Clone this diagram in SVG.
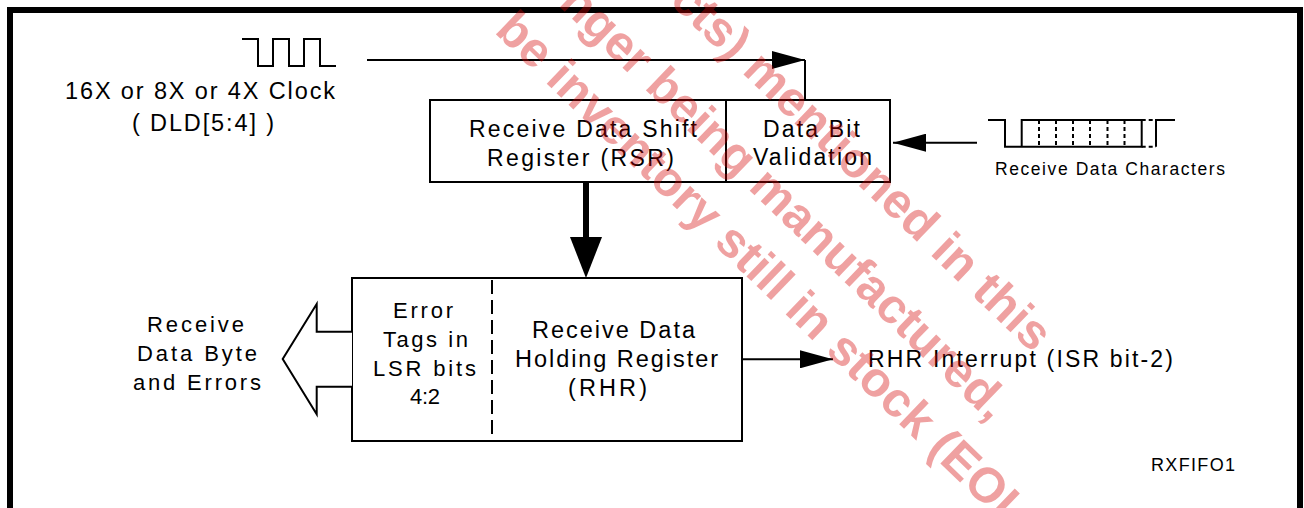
<svg xmlns="http://www.w3.org/2000/svg" width="1304" height="508" viewBox="0 0 1304 508">
  <style>
    .box { fill: #fff; stroke: #000; stroke-width: 2; }
    .ln { fill: none; stroke: #000; stroke-width: 2; }
    .dash { fill: none; stroke: #000; stroke-width: 2; stroke-dasharray: 4 3; }
    .t { font-family: "Liberation Sans", Arial, sans-serif; fill: #000; }
    .wm { font-family: "Liberation Sans", Arial, sans-serif; font-weight: bold; font-size: 49px; fill: #d40000; fill-opacity: 0.37; }
  </style>
  <defs>
    <marker id="arr" markerUnits="userSpaceOnUse" viewBox="0 0 33 18" refX="33" refY="9" markerWidth="33" markerHeight="18" orient="auto">
      <path d="M0,0 L33,9 L0,18 Z" fill="#000"/>
    </marker>
  </defs>
  <rect x="0" y="0" width="1304" height="508" fill="#fff"/>
  <rect x="10" y="10" width="1290" height="530" fill="none" stroke="#000" stroke-width="6"/>

  <g id="node-clock">
    <path class="ln" d="M242,39 H258 V66 H273 V39 H289 V66 H304 V39 H320 V66 H336"/>
    <text class="t" x="65" y="99" font-size="23.5" textLength="270" lengthAdjust="spacing">16X or 8X or 4X Clock</text>
    <text class="t" x="132" y="131" font-size="23.5" textLength="142" lengthAdjust="spacing">( DLD[5:4] )</text>
  </g>

  <g id="node-rsr">
    <rect class="box" x="430" y="100" width="296" height="82"/>
    <text class="t" x="469" y="137" font-size="23" textLength="228" lengthAdjust="spacing">Receive Data Shift</text>
    <text class="t" x="487" y="166" font-size="23" textLength="187" lengthAdjust="spacing">Register (RSR)</text>
  </g>

  <g id="node-databit">
    <rect class="box" x="726" y="100" width="164" height="82"/>
    <text class="t" x="763" y="137" font-size="23" textLength="97" lengthAdjust="spacing">Data Bit</text>
    <text class="t" x="753" y="165" font-size="23" textLength="119" lengthAdjust="spacing">Validation</text>
  </g>

  <g id="node-rxchars">
    <path class="ln" d="M988,120 H1005 V146.7 H1141.7 V120 H1021.7 V146.7"/>
    <path class="dash" d="M1039,120 V146.7 M1056,120 V146.7 M1073,120 V146.7 M1090,120 V146.7 M1107.5,120 V146.7 M1124.5,120 V146.7"/>
    <path class="dash" d="M1141.7,120 H1156 M1141.7,146.7 H1156"/>
    <path class="ln" d="M1156,146.7 V120 H1175"/>
    <text class="t" x="995" y="175" font-size="17.5" textLength="230" lengthAdjust="spacing">Receive Data Characters</text>
  </g>

  <g id="node-rhr">
    <rect class="box" x="352" y="278" width="390" height="163"/>
    <line x1="492" y1="280" x2="492" y2="440" stroke="#000" stroke-width="2" stroke-dasharray="14 6"/>
    <text class="t" x="532" y="338" font-size="23.5" textLength="163" lengthAdjust="spacing">Receive Data</text>
    <text class="t" x="515" y="367" font-size="23.5" textLength="203" lengthAdjust="spacing">Holding Register</text>
    <text class="t" x="568" y="396" font-size="23.5" textLength="79" lengthAdjust="spacing">(RHR)</text>
  </g>

  <g id="node-errortags">
    <text class="t" x="393" y="318" font-size="22" textLength="60" lengthAdjust="spacing">Error</text>
    <text class="t" x="383" y="347" font-size="22" textLength="85" lengthAdjust="spacing">Tags in</text>
    <text class="t" x="373" y="375.5" font-size="22" textLength="103" lengthAdjust="spacing">LSR bits</text>
    <text class="t" x="410" y="404" font-size="22" textLength="30" lengthAdjust="spacing">4:2</text>
  </g>

  <g id="node-output">
    <text class="t" x="147" y="331.5" font-size="22" textLength="97" lengthAdjust="spacing">Receive</text>
    <text class="t" x="137" y="360.5" font-size="22" textLength="120" lengthAdjust="spacing">Data Byte</text>
    <text class="t" x="133" y="389.5" font-size="22" textLength="128" lengthAdjust="spacing">and Errors</text>
  </g>

  <g id="node-interrupt">
    <text class="t" x="868" y="366.5" font-size="23" textLength="305" lengthAdjust="spacing">RHR Interrupt (ISR bit-2)</text>
  </g>

  <g id="node-label">
    <text class="t" x="1151" y="470.5" font-size="18" textLength="84" lengthAdjust="spacing">RXFIFO1</text>
  </g>

  <g id="connectors">
    <path class="ln" d="M367,60 H805" marker-end="url(#arr)"/>
    <path class="ln" d="M805,60 V100"/>
    <path class="ln" d="M977,142.7 H893" marker-end="url(#arr)"/>
    <path class="ln" d="M742,359.3 H833" marker-end="url(#arr)"/>
    <path d="M586,182 V238" stroke="#000" stroke-width="6" fill="none"/>
    <path d="M570,237 H602 L586,278 Z" fill="#000"/>
    <path class="box" d="M352,331.7 H316.7 V304 L282.7,359 L316.7,414.3 V386.7 H352"/>
  </g>

  <g id="watermark">
    <text class="wm" transform="translate(668.5,1.9) rotate(44)">cts) mentioned in this</text>
    <text class="wm" transform="translate(557.4,4.7) rotate(44)">nger being manufactured,</text>
    <text class="wm" transform="translate(493.4,32) rotate(44)">be inventory still in stock (EOL</text>
  </g>
</svg>
